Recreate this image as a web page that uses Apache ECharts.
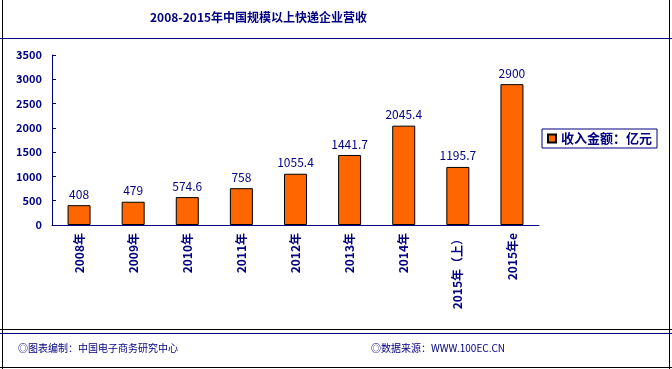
<!DOCTYPE html>
<html><head><meta charset="utf-8">
<script src="https://cdn.jsdelivr.net/npm/echarts@6/dist/echarts.min.js"></script>
<style>html,body{margin:0;padding:0;background:#fff}#c{width:672px;height:369px}</style>
</head><body><div id="c"></div>
<script>
const categories = ['2008年','2009年','2010年','2011年','2012年','2013年','2014年','2015年（上）','2015年e'];
const revenue = [408, 479, 574.6, 758, 1055.4, 1441.7, 2045.4, 1195.7, 2900];
const seriesName = '收入金额：亿元';
const titleText = '2008-2015年中国规模以上快递企业营收';
const footLeft = '◎图表编制：中国电子商务研究中心';
const footRight = '◎数据来源：WWW.100EC.CN';
const navy = '#000080';
const font = '"Noto Sans CJK SC", sans-serif';
const chart = echarts.init(document.getElementById('c'));
chart.setOption({
  animation: false,
  backgroundColor: '#fff',
  textStyle: { fontFamily: font },
  grid: { left: 52, top: 55, width: 487, height: 170, containLabel: false },
  legend: {
    left: 542, top: 129, padding: [3, 5], itemWidth: 8, itemHeight: 8, itemGap: 4,
    borderColor: navy, borderWidth: 1,
    textStyle: { color: navy, fontWeight: 'bold', fontSize: 13, fontFamily: font },
    data: [{ name: seriesName, icon: 'rect' }]
  },
  xAxis: {
    type: 'category', data: categories,
    axisLine: { lineStyle: { color: navy, width: 1 } },
    axisTick: { inside: true, length: 4, lineStyle: { color: navy } },
    axisLabel: { rotate: 90, color: navy, fontSize: 12, fontWeight: 'bold', margin: 8, fontFamily: font }
  },
  yAxis: {
    type: 'value', min: 0, max: 3500, interval: 500,
    axisLine: { show: true, lineStyle: { color: navy, width: 1 } },
    axisTick: { show: true, inside: true, length: 4, lineStyle: { color: navy } },
    splitLine: { show: false },
    axisLabel: { color: navy, fontSize: 11, fontWeight: 'bold', margin: 10, fontFamily: font,
      formatter: v => String(v) }
  },
  series: [{
    name: seriesName, type: 'bar', data: revenue, barWidth: 23,
    itemStyle: { color: '#FF6600', borderColor: '#000', borderWidth: 1 },
    label: { show: true, position: 'top', distance: 5, color: navy, fontSize: 12, fontFamily: font }
  }],
  graphic: [
    { type: 'line', shape: { x1: 2.5, y1: 0, x2: 2.5, y2: 369 }, style: { stroke: '#000', lineWidth: 1 } },
    { type: 'line', shape: { x1: 669.5, y1: 0, x2: 669.5, y2: 369 }, style: { stroke: '#000', lineWidth: 1 } },
    { type: 'line', shape: { x1: 0, y1: 38.5, x2: 672, y2: 38.5 }, style: { stroke: navy, lineWidth: 1 } },
    { type: 'line', shape: { x1: 0, y1: 329.5, x2: 672, y2: 329.5 }, style: { stroke: '#000', lineWidth: 1 } },
    { type: 'line', shape: { x1: 0, y1: 333.5, x2: 672, y2: 333.5 }, style: { stroke: navy, lineWidth: 1 } },
    { type: 'line', shape: { x1: 0, y1: 367.5, x2: 672, y2: 367.5 }, style: { stroke: '#000', lineWidth: 1 } },
    { type: 'text', left: 150, top: 11, style: { text: titleText, fill: navy, font: 'bold 12px ' + font } },
    { type: 'text', left: 18, top: 343, style: { text: footLeft, fill: navy, font: '10px ' + font } },
    { type: 'text', left: 371, top: 343, style: { text: footRight, fill: navy, font: '10px ' + font } }
  ]
});
</script></body></html>
